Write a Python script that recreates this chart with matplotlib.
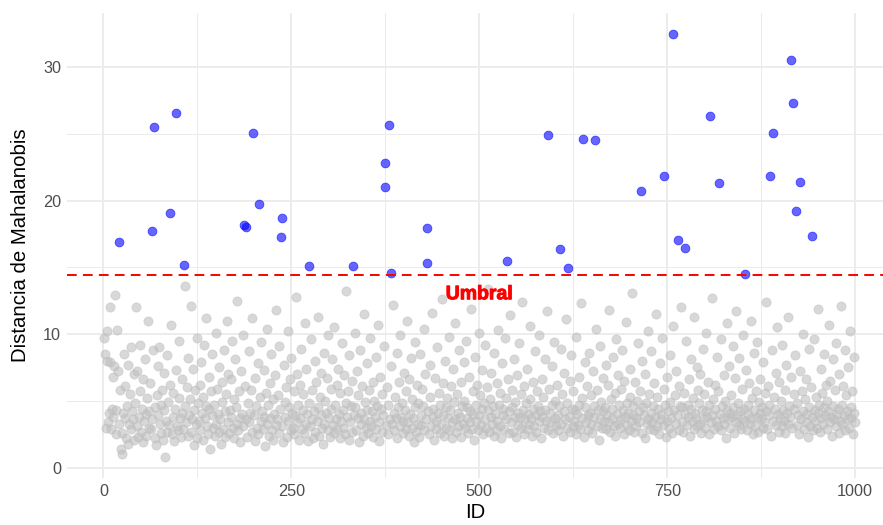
import numpy as np
import matplotlib.pyplot as plt
import matplotlib.patheffects as pe

plt.rcParams['font.family'] = ['Liberation Sans', 'DejaVu Sans']

umbral = 14.45  # umbral de la distancia

# puntos por encima del umbral (ID, distancia)
outlier_ids = [20, 65, 67, 89, 97, 107, 187, 189, 199, 207, 236, 237, 273, 332,
               374, 375, 380, 383, 430, 431, 537, 591, 607, 618, 638, 654,
               715, 745, 757, 764, 774, 807, 819, 854, 887, 890, 915, 917, 921, 927, 943]
outlier_dist = [16.9, 17.7, 25.5, 19.1, 26.6, 15.2, 18.2, 18.05, 25.1, 19.75, 17.3, 18.7, 15.08, 15.1,
                21.0, 22.85, 25.65, 14.55, 15.35, 17.97, 15.5, 24.9, 16.4, 14.95, 24.63, 24.58,
                20.75, 21.87, 32.5, 17.07, 16.45, 26.35, 21.3, 14.5, 21.87, 25.05, 30.53, 27.3, 19.23, 21.37, 17.35]

# resto de distancias (x10), en orden de ID
normal_tenths = """
97 85 30 102 80 34 41 120 79 29 44 68 38 76 129 43 25 103 72 33
58 14 10 26 41 85 37 61 22 46 77 18 33 55 90 29 42 36 70 21
48 120 31 72 23 38 92 57 27 44 19 66 35 81 40 24 52 110 30 42
63 29 36 88 45 22 17 54 39 76 90 33 26 47 58 21 71 43 8 35
84 27 49 32 62 107 25 38 56 20 44 73 31 28 95 52 37 23 66 41
29 136 46 34 60 82 24 39 51 121 27 36 74 43 17 58 33 97 22 48
35 62 28 79 41 53 21 92 37 46 112 31 25 68 44 14 57 39 85 30
47 24 101 33 59 40 27 75 36 18 64 49 29 88 42 23 55 110 34 70
26 43 38 66 95 30 51 22 81 45 33 125 28 57 37 19 72 40 99 31
61 36 23 48 87 34 41 58 27 112 39 20 67 46 30 78 25 53 35 94
42 29 73 38 16 56 104 33 47 24 63 37 85 28 51 21 40 69 32 118
36 54 26 91 44 31 19 77 49 38 60 23 102 35 45 66 28 82 41 30
57 25 39 128 34 70 47 21 62 37 89 29 43 55 26 108 33 74 40 20
48 31 96 36 58 22 42 80 27 64 35 113 45 24 53 39 71 30 18 86
33 50 41 67 28 99 37 23 59 44 81 32 26 105 47 36 62 29 74 40
22 56 35 93 43 30 69 25 48 132 38 57 21 84 34 46 27 65 39 101
45 28 72 37 54 19 88 41 33 61 24 115 36 49 30 78 43 26 58 35
97 31 42 64 23 50 38 83 29 46 107 34 20 68 44 27 55 39 91 32
60 25 47 36 76 33 122 41 28 53 37 86 22 45 64 31 99 38 48 26
35 71 43 29 57 110 34 24 66 40 82 30 51 37 19 94 45 27 62 33
48 23 85 39 32 59 46 104 28 70 36 42 25 77 53 31 116 38 44 21
67 35 29 90 41 56 26 47 33 126 39 63 24 80 45 30 52 37 98 28
43 61 34 22 74 49 36 108 27 55 41 31 88 38 64 23 46 33 79 50
30 95 37 45 26 68 42 34 119 29 57 40 21 83 47 35 62 28 101 39
54 32 73 44 25 48 92 36 30 60 43 134 27 51 38 71 33 46 24 86
40 28 63 35 103 47 31 56 22 78 39 44 29 97 52 36 66 26 42 114
34 58 45 27 81 38 49 23 69 41 32 93 37 55 30 124 43 25 61 36
48 74 29 40 33 106 51 37 24 64 44 31 87 39 27 57 46 99 35 42
22 66 38 53 30 81 43 35 117 28 59 41 34 76 47 26 94 37 50 32
62 39 28 46 89 33 55 24 71 42 36 111 30 48 38 65 27 84 44 31
57 35 43 25 98 40 32 68 47 29 123 37 52 23 79 45 34 61 39 28
86 41 33 54 26 72 46 38 104 31 58 43 21 91 36 49 30 67 42 35
45 29 77 39 62 34 118 27 51 44 37 83 31 56 24 96 40 33 69 47
30 59 36 88 43 25 65 38 109 32 48 41 28 74 53 35 131 39 46 27
64 37 31 50 93 42 34 57 26 80 45 39 22 70 48 33 102 36 55 29
41 87 34 46 28 63 38 115 31 53 44 25 78 40 36 97 32 59 47 23
68 35 42 30 84 49 37 26 106 43 54 33 72 39 28 61 46 120 34 45
27 56 40 95 32 47 38 66 24 81 44 35 52 29 113 41 37 75 31 58
48 33 70 26 43 89 36 55 30 101 42 38 64 25 47 34 127 39 51 29
62 44 35 83 31 57 40 28 96 46 37 69 33 50 22 108 43 36 76 41
30 54 38 91 45 26 67 34 117 39 48 32 82 42 29 59 36 99 44 35
73 28 47 40 63 33 110 37 52 25 86 43 31 57 38 94 27 49 41 66
36 45 30 79 34 56 42 124 29 61 39 47 24 88 35 53 44 71 32 105
40 27 64 37 50 31 92 43 35 58 26 77 41 33 113 46 38 68 30 55
44 84 32 48 39 25 72 36 57 42 100 29 51 34 66 40 23 89 45 31
60 38 28 96 43 35 53 30 119 41 47 27 74 37 56 33 85 45 39 62
29 50 42 107 34 65 38 24 81 46 36 58 31 93 40 44 26 70 35 121
47 33 61 39 88 28 54 42 36 75 30 102 45 37 57 25 83 41 34
"""


def main():
    normal_dist = np.array(normal_tenths.split(), dtype=float) / 10
    normal_ids = [i for i in range(1, 1001) if i not in outlier_ids][:len(normal_dist)]

    fig = plt.figure(figsize=(8.83, 5.25), dpi=100)
    ax = fig.add_axes([0.0755, 0.0895, 0.9245, 0.8863])

    ax.scatter(normal_ids, normal_dist, s=44, color='#bebebe', alpha=0.6,
               edgecolors='#bebebe', linewidths=0.5, zorder=2)
    ax.scatter(outlier_ids, outlier_dist, s=40, color='blue', alpha=0.6,
               edgecolors='blue', linewidths=0.6, zorder=3)

    ax.axhline(umbral, color='red', linestyle=(0, (5.0, 3.2)), linewidth=1.4, zorder=4)
    ax.text(500, umbral - 1.5, 'Umbral', color='red', fontsize=14, fontweight='bold',
            ha='center', va='center', zorder=5,
            path_effects=[pe.withStroke(linewidth=0.7, foreground='red')])

    # limites al estilo ggplot (expansion del 5%)
    all_d = np.concatenate([normal_dist, outlier_dist])
    rng = all_d.max() - all_d.min()
    ax.set_ylim(all_d.min() - 0.05 * rng, all_d.max() + 0.05 * rng)
    ax.set_xlim(-49, 1037)

    ax.set_xticks([0, 250, 500, 750, 1000])
    ax.set_xticks([125, 375, 625, 875], minor=True)
    ax.set_yticks([0, 10, 20, 30])
    ax.set_yticks([5, 15, 25], minor=True)

    ax.grid(which='major', color='#ebebeb', linewidth=1.3)
    ax.grid(which='minor', color='#ebebeb', linewidth=0.7)
    ax.set_axisbelow(True)
    for sp in ax.spines.values():
        sp.set_visible(False)
    ax.tick_params(which='both', length=0, labelsize=11.7, labelcolor='#4d4d4d', pad=4)

    ax.set_xlabel('ID', fontsize=14.7, labelpad=3)
    ax.set_ylabel('Distancia de Mahalanobis', fontsize=14.7, labelpad=9)

    fig.savefig('out.png', dpi=100)


if __name__ == "__main__":
    main()
